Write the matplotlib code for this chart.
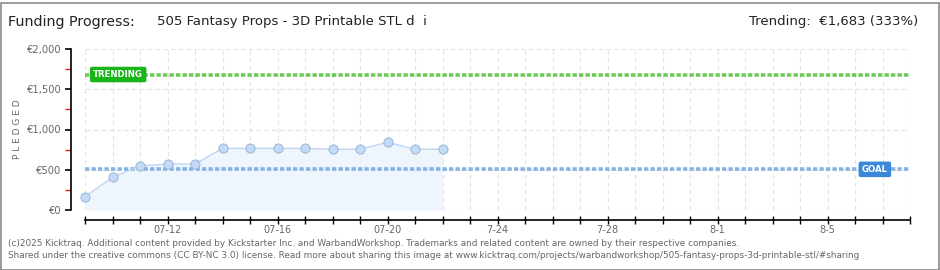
import datetime as dt
import matplotlib
matplotlib.use("Agg")
import matplotlib.pyplot as plt
from matplotlib.patches import Rectangle

plt.rcParams['font.family'] = ['DejaVu Sans']

# data
dates = ["2025-07-09", "2025-07-10", "2025-07-11", "2025-07-12", "2025-07-13",
         "2025-07-14", "2025-07-15", "2025-07-16", "2025-07-17", "2025-07-18",
         "2025-07-19", "2025-07-20", "2025-07-21", "2025-07-22"]
pledged = [165, 406, 547, 571, 571, 766, 766, 766, 766, 754, 754, 841, 754, 754]
goal = 505
trending = 1683
start, end = "2025-07-09", "2025-08-08"
label_days = ["2025-07-12", "2025-07-16", "2025-07-20", "2025-07-24",
              "2025-07-28", "2025-08-01", "2025-08-05"]
label_text = ["07-12", "07-16", "07-20", "7-24", "7-28", "8-1", "8-5"]
yticks = [0, 500, 1000, 1500, 2000]
ytick_text = ["€0", "€500", "€1,000", "€1,500", "€2,000"]

to_d = lambda s: dt.datetime.strptime(s, "%Y-%m-%d")
x = [to_d(d) for d in dates]
x0, x1 = to_d(start), to_d(end)

W, H = 940, 270
fig = plt.figure(figsize=(W / 100, H / 100), dpi=100)
ax = fig.add_axes([85 / W, (H - 210) / H, (910 - 85) / W, (210 - 49) / H])

ax.set_xlim(x0, x1)
ax.set_ylim(0, 2000)

# grid
days = [x0 + dt.timedelta(days=i) for i in range((x1 - x0).days + 1)]
for d in days:
    ax.axvline(d, color='#e2e2e2', lw=0.8, ls=(0, (4, 3)), zorder=0)
for v in yticks:
    ax.axhline(v, color='#e2e2e2', lw=0.8, ls=(0, (4, 3)), zorder=0)

# reference lines
ax.axhline(trending, color='#6acc55', lw=2.6, ls=(0, (1.2, 0.6)), zorder=2)
ax.axhline(goal, color='#86b3e3', lw=2.6, ls=(0, (1.2, 0.6)), zorder=2)

# series
ax.fill_between(x, pledged, 0, color='#eef5fd', zorder=1, lw=0)
ax.plot(x, pledged, color='#bcd6f2', lw=1, zorder=3)
ax.plot(x, pledged, 'o', ms=6.5, mfc='#c3dbf6', mec='#9db9d8', mew=0.8,
        zorder=4, clip_on=False)

# labels on lines
ax.text(to_d("2025-07-09") + dt.timedelta(days=0.3), trending, "TRENDING",
        color='white', fontsize=6.2, fontweight='bold', va='center', ha='left',
        zorder=5,
        bbox=dict(boxstyle='round,pad=0.3,rounding_size=0.15', fc='#17b617',
                  ec='#17b617'))
ax.text(to_d("2025-08-06") + dt.timedelta(days=0.25), goal, "GOAL",
        color='white', fontsize=6.2, fontweight='bold', va='center', ha='left',
        zorder=5,
        bbox=dict(boxstyle='round,pad=0.3,rounding_size=0.15', fc='#3b88d8',
                  ec='#3b88d8'))

# axes styling
for s in ['top', 'right']:
    ax.spines[s].set_visible(False)
ax.spines['left'].set_position(('outward', 10))
ax.spines['bottom'].set_position(('outward', 7))
ax.spines['left'].set_linewidth(1.2)
ax.spines['bottom'].set_linewidth(1.2)

ax.set_yticks(yticks)
ax.set_yticklabels(ytick_text, fontsize=7.2, color='#666666')
ax.set_yticks([250, 750, 1250, 1750], minor=True)
ax.tick_params(axis='y', which='major', length=4, width=1.2, direction='out', pad=3)
ax.tick_params(axis='y', which='minor', length=4, width=1, color='#dd2222',
               direction='out')

lab = dict(zip(label_days, label_text))
ax.set_xticks(days)
ax.set_xticklabels([lab.get(d.strftime("%Y-%m-%d"), "") for d in days],
                   fontsize=7, color='#666666')
ax.tick_params(axis='x', which='major', length=6, width=1, direction='inout', pad=0.5)

ax.set_ylabel("P L E D G E D", fontsize=6.5, color='#666666')
ax.yaxis.set_label_coords(-63 / 825, 0.5)

# header
fig.text(8 / W, 1 - 22 / H, "Funding Progress:", fontsize=10.3, color='#222222',
         va='center', ha='left')
fig.text(157 / W, 1 - 22 / H, "505 Fantasy Props - 3D Printable STL d  i",
         fontsize=9.5, color='#222222', va='center', ha='left')
fig.text(918 / W, 1 - 22 / H, "Trending:  €1,683 (333%)", fontsize=9.5,
         color='#222222', va='center', ha='right')

# footer
fig.text(8 / W, 1 - 244 / H,
         "(c)2025 Kicktraq. Additional content provided by Kickstarter Inc. and WarbandWorkshop. "
         "Trademarks and related content are owned by their respective companies.",
         fontsize=6.4, color='#666666', va='center', ha='left')
fig.text(8 / W, 1 - 256 / H,
         "Shared under the creative commons (CC BY-NC 3.0) license. Read more about sharing this image at "
         "www.kicktraq.com/projects/warbandworkshop/505-fantasy-props-3d-printable-stl/#sharing",
         fontsize=6.4, color='#666666', va='center', ha='left')

fig.patches.append(Rectangle((0.5 / W, 0.5 / H), 1 - 1.5 / W, 1 - 3.5 / H,
                             transform=fig.transFigure, fill=False,
                             ec='#8a8a8a', lw=1.2))

fig.savefig("out.png", dpi=100)
